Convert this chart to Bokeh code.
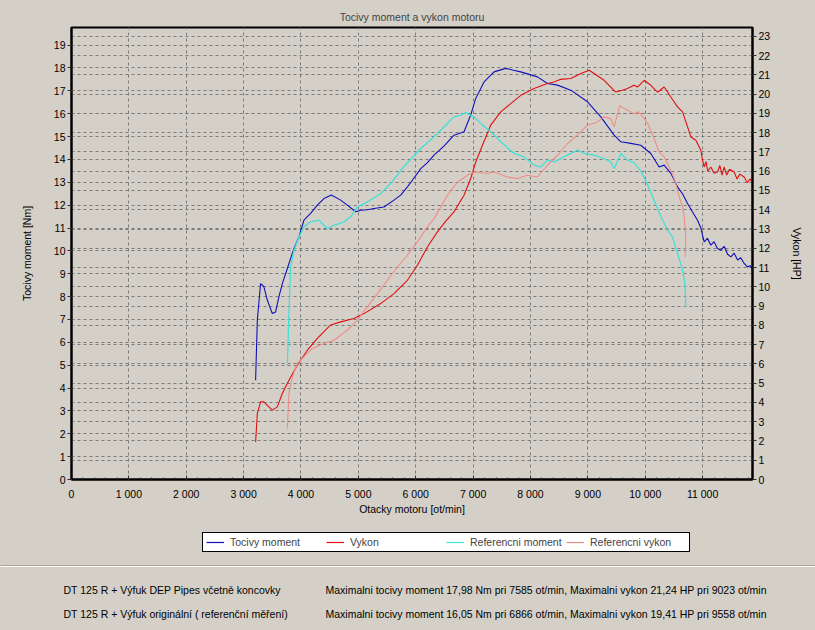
from bokeh.plotting import figure
from bokeh.models import (Range1d, LinearAxis, FixedTicker, Grid, Legend, LegendItem,
                          Label, Span)
from bokeh.layouts import column
from bokeh.embed import file_html
from bokeh.resources import INLINE

# ---------------- data ----------------
TITLE = "Tocivy moment a vykon motoru"
X_LABEL = "Otacky motoru [ot/min]"
Y_LABEL = "Tocivy moment [Nm]"
Y2_LABEL = "Vykon [HP]"

X_TICKS = [0, 1000, 2000, 3000, 4000, 5000, 6000, 7000, 8000, 9000, 10000, 11000]
X_TICK_LABELS = ["0", "1 000", "2 000", "3 000", "4 000", "5 000", "6 000",
                 "7 000", "8 000", "9 000", "10 000", "11 000"]
Y_TICKS = list(range(0, 20))
Y2_TICKS = list(range(0, 24))

TORQUE_RPM = [3209, 3239, 3296, 3354, 3413, 3500, 3558, 3615, 3675, 3762, 3819, 3877, 3964,
              4051, 4168, 4285, 4400, 4529, 4691, 4808, 4953, 5040, 5160, 5272, 5447, 5621,
              5738, 5855, 5942, 6087, 6200, 6319, 6500, 6667, 6842, 6958, 7046, 7191, 7365,
              7539, 7585, 7700, 7831, 8122, 8296, 8471, 8703, 8994, 9226, 9458, 9575, 9750,
              9923, 10097, 10243, 10330, 10447, 10563, 10650, 10738, 10825, 10912, 10970,
              11027, 11085, 11144, 11200, 11260, 11318, 11376, 11435, 11493, 11550, 11610,
              11665, 11725, 11780, 11830, 11871]
TORQUE_NM = [4.34, 6.97, 8.57, 8.43, 7.85, 7.26, 7.33, 7.99, 8.57, 9.23, 9.67, 10.1, 10.61,
             11.34, 11.64, 12.0, 12.29, 12.44, 12.22, 12.0, 11.71, 11.78, 11.80, 11.85, 11.92,
             12.22, 12.44, 12.8, 13.09, 13.6, 13.85, 14.19, 14.6, 15.06, 15.21, 15.94, 16.67,
             17.39, 17.83, 17.96, 17.98, 17.9, 17.83, 17.61, 17.32, 17.25, 17.03, 16.52, 15.86,
             15.06, 14.77, 14.7, 14.62, 14.26, 13.67, 13.75, 13.39, 12.8, 12.5, 12.07, 11.7,
             11.34, 11.0, 10.39, 10.55, 10.25, 10.4, 10.1, 10.03, 10.2, 9.85, 9.74, 9.9, 9.6,
             9.7, 9.45, 9.3, 9.35, 9.16]

POWER_RPM = [3209, 3239, 3296, 3354, 3441, 3500, 3587, 3675, 3790, 3936, 4111, 4285, 4517,
             4691, 4923, 5098, 5389, 5621, 5855, 6029, 6203, 6378, 6520, 6667, 6842, 6958,
             7046, 7163, 7307, 7482, 7656, 7831, 8063, 8296, 8411, 8528, 8703, 8877, 9023,
             9109, 9283, 9487, 9600, 9691, 9806, 9866, 9981, 10098, 10214, 10330, 10447,
             10563, 10651, 10738, 10796, 10883, 10970, 10999, 11027, 11060, 11090, 11144,
             11200, 11260, 11300, 11340, 11376, 11420, 11470, 11551, 11600, 11650, 11725,
             11780, 11830, 11871]
POWER_HP = [1.95, 3.43, 4.03, 4.03, 3.77, 3.6, 3.77, 4.46, 5.15, 5.93, 6.71, 7.32, 8.02,
            8.18, 8.36, 8.61, 9.13, 9.65, 10.34, 11.12, 12.07, 12.85, 13.4, 13.89, 14.75,
            15.62, 16.48, 17.35, 18.39, 19.08, 19.51, 19.94, 20.29, 20.55, 20.63, 20.77,
            20.81, 21.07, 21.24, 21.07, 20.72, 20.11, 20.2, 20.29, 20.46, 20.37, 20.72,
            20.46, 20.1, 20.37, 19.85, 19.34, 19.08, 18.3, 17.78, 17.61, 17.09, 16.57, 16.22,
            16.5, 16.0, 16.22, 15.9, 15.96, 16.3, 15.8, 16.22, 15.8, 16.1, 15.96, 15.6, 15.85,
            15.7, 15.4, 15.6, 15.36]

REF_TORQUE_RPM = [3762, 3790, 3819, 3877, 3964, 4051, 4168, 4313, 4459, 4575, 4749, 4866,
                  4983, 5157, 5389, 5564, 5800, 6087, 6319, 6552, 6667, 6784, 6866, 7016,
                  7163, 7307, 7482, 7714, 7888, 8063, 8179, 8296, 8411, 8528, 8645, 8819,
                  8935, 9109, 9283, 9400, 9458, 9575, 9691, 9808, 9923, 10040, 10155, 10272,
                  10389, 10476, 10563, 10651, 10691, 10708]
REF_TORQUE_NM = [5.0, 7.26, 9.3, 10.03, 10.61, 11.05, 11.27, 11.34, 10.98, 11.12, 11.27,
                 11.49, 11.92, 12.14, 12.51, 12.95, 13.7, 14.48, 14.99, 15.57, 15.86, 15.94,
                 16.05, 15.86, 15.5, 15.21, 14.77, 14.26, 14.11, 13.75, 13.67, 13.97, 13.89,
                 14.04, 14.19, 14.41, 14.26, 14.19, 14.04, 13.89, 13.6, 14.26, 13.97, 13.85,
                 13.5, 12.9, 12.2, 11.5, 10.91, 10.61, 9.89, 9.16, 8.57, 7.55]

REF_POWER_RPM = [3762, 3790, 3849, 3936, 4051, 4198, 4400, 4575, 4808, 4983, 5157, 5331,
                 5505, 5680, 5855, 6029, 6203, 6319, 6552, 6727, 6901, 7016, 7250, 7365,
                 7599, 7773, 7947, 8122, 8296, 8471, 8645, 8819, 8994, 9168, 9283, 9400,
                 9458, 9558, 9632, 9806, 9894, 10040, 10155, 10243, 10330, 10447, 10534,
                 10592, 10651, 10679, 10708, 10696]
REF_POWER_HP = [2.65, 4.46, 5.32, 6.02, 6.36, 6.8, 7.06, 7.23, 7.75, 8.27, 8.96, 9.65,
                10.34, 11.03, 11.64, 12.33, 13.11, 13.54, 14.75, 15.44, 15.79, 15.96, 15.88,
                15.96, 15.7, 15.62, 15.79, 15.7, 16.31, 16.83, 17.44, 17.87, 18.39, 18.56,
                18.82, 18.73, 18.3, 19.41, 19.25, 18.99, 19.08, 18.5, 17.7, 17.0, 16.74, 16.05,
                15.36, 14.67, 14.15, 13.63, 12.59, 11.55]

SERIES_NAMES = ["Tocivy moment", "Vykon", "Referencni moment", "Referencni vykon"]
FOOTER_LEFT = ["DT 125 R  + Výfuk DEP Pipes včetně koncovky",
               "DT 125 R + Výfuk originální ( referenční měření)"]
FOOTER_RIGHT = ["Maximalni tocivy moment 17,98 Nm pri 7585 ot/min,  Maximalni vykon 21,24 HP pri 9023 ot/min",
                "Maximalni tocivy moment 16,05 Nm pri 6866 ot/min,  Maximalni vykon 19,41 HP pri 9558 ot/min"]

# ---------------- styling ----------------
BG = "#d4d0c8"
FONT = "Liberation Sans"
FS = "10.5px"
COLORS = ["#1010b8", "#e01010", "#40e0d8", "#f08c86"]
GRID_C = "#7a7a7a"

MAIN_H = 520
p = figure(width=815, height=MAIN_H, output_backend="svg", toolbar_location=None,
           x_range=Range1d(0, 11870), y_range=Range1d(0, 19.77),
           min_border_left=71, min_border_right=63, min_border_top=27,
           min_border_bottom=MAIN_H - 479,
           background_fill_color=BG, border_fill_color=BG, outline_line_color="black",
           outline_line_width=2)
p.frame_align = False
p.extra_y_ranges = {"hp": Range1d(0, 23.46)}

p.title.text = TITLE
p.title.align = "center"
p.title.text_font = FONT
p.title.text_font_size = FS
p.title.text_font_style = "normal"
p.title.standoff = 9

# x axis
xa = p.xaxis[0]
xa.ticker = FixedTicker(ticks=X_TICKS, minor_ticks=list(range(0, 12000, 200)))
xa.major_label_overrides = dict(zip(X_TICKS, X_TICK_LABELS))
xa.axis_label = X_LABEL
xa.major_tick_in = 4
xa.major_tick_out = 0
xa.minor_tick_in = 2
xa.minor_tick_out = 0
xa.major_label_standoff = 8

ya = p.yaxis[0]
ya.ticker = FixedTicker(ticks=Y_TICKS)
ya.axis_label = Y_LABEL
ya.major_tick_in = 0
ya.major_tick_out = 4
ya.minor_tick_out = 0
ya.minor_tick_in = 0
ya.major_label_standoff = 2
ya.axis_label_standoff = 18

ya2 = LinearAxis(y_range_name="hp", ticker=FixedTicker(ticks=Y2_TICKS), axis_label=Y2_LABEL)
ya2.major_tick_in = 0
ya2.major_tick_out = 4
ya2.minor_tick_in = 0
ya2.minor_tick_out = 0
ya2.major_label_standoff = 2
ya2.axis_label_standoff = 18
p.add_layout(ya2, "right")

for ax in (xa, ya, ya2):
    ax.axis_line_color = "black"
    ax.axis_line_width = 2
    ax.major_tick_line_color = "#303030"
    ax.minor_tick_line_color = "#303030"
    ax.major_label_text_font = FONT
    ax.major_label_text_font_size = FS
    ax.major_label_text_color = "black"
    ax.axis_label_text_font = FONT
    ax.axis_label_text_font_size = FS
    ax.axis_label_text_font_style = "normal"
    ax.axis_label_text_color = "black"
xa.axis_label_standoff = 0

# grids
p.xgrid.ticker = FixedTicker(ticks=X_TICKS)
p.ygrid.ticker = FixedTicker(ticks=Y_TICKS)
g2 = Grid(dimension=1, ticker=FixedTicker(ticks=Y2_TICKS), y_range_name="hp")
p.add_layout(g2)
for g in (p.xgrid[0], p.ygrid[0], g2):
    g.grid_line_color = GRID_C
    g.grid_line_dash = "3 3"
    g.grid_line_width = 1
    g.grid_line_alpha = 1.0

# lines
SERIES = [(TORQUE_RPM, TORQUE_NM, "default"), (POWER_RPM, POWER_HP, "hp"),
          (REF_TORQUE_RPM, REF_TORQUE_NM, "default"), (REF_POWER_RPM, REF_POWER_HP, "hp")]
WIDTHS = [1.1, 1.1, 1.3, 1.1]
for (xs, ys, rn), c, w in zip(SERIES, COLORS, WIDTHS):
    p.line(xs, ys, line_color=c, line_width=w, y_range_name=rn)

# ---------------- legend + footer panel ----------------
FOOT_H = 630 - MAIN_H
f = figure(width=815, height=FOOT_H, output_backend="svg", toolbar_location=None,
           title=None, x_range=Range1d(0, 815), y_range=Range1d(0, FOOT_H),
           x_axis_location=None, y_axis_location=None, min_border=0,
           min_border_left=0, min_border_right=0, min_border_top=0, min_border_bottom=0,
           background_fill_color=BG, border_fill_color=BG, outline_line_color=None)
f.frame_align = False
f.xgrid.visible = False
f.ygrid.visible = False

# legend keys: hidden copies of the four series (only their styling is shown in the legend)
proxies = [f.line(xs, ys, line_color=c, line_width=1.2, visible=False)
           for (xs, ys, _), c in zip(SERIES, COLORS)]
legend = Legend(items=[LegendItem(label=n, renderers=[r]) for n, r in zip(SERIES_NAMES, proxies)],
                location=(202, FOOT_H - (552 - MAIN_H)), orientation="horizontal",
                background_fill_color="white", background_fill_alpha=1.0,
                border_line_color="black", border_line_width=1, border_line_alpha=1.0,
                padding=3, spacing=0, margin=0, glyph_width=18, glyph_height=12,
                label_standoff=6, label_width=96, label_height=12,
                label_text_font=FONT, label_text_font_size=FS)
f.add_layout(legend)

f.add_layout(Span(location=630 - 565, dimension="width", line_color="#a8a49c", line_width=1))
f.add_layout(Span(location=630 - 566, dimension="width", line_color="white", line_width=1))

for i, (lt, rt) in enumerate(zip(FOOTER_LEFT, FOOTER_RIGHT)):
    yy = 630 - (589 + 24 * i)
    f.add_layout(Label(x=63, y=yy, text=lt, text_font=FONT, text_font_size=FS,
                       text_baseline="middle", text_color="black"))
    f.add_layout(Label(x=325, y=yy, text=rt, text_font=FONT, text_font_size=FS,
                       text_baseline="middle", text_color="black"))

layout = column(p, f, spacing=0, styles={"background-color": BG})
open("out.html", "w").write(file_html(layout, INLINE))
